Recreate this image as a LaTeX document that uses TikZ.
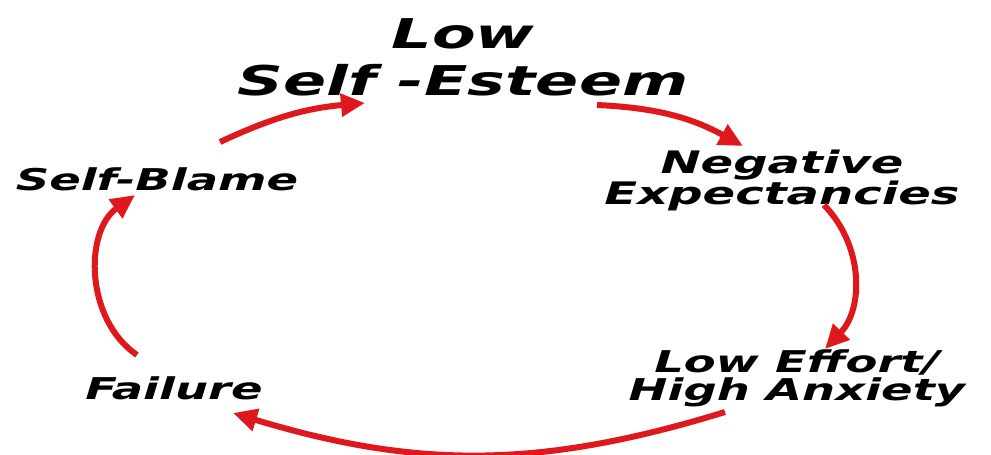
\documentclass[tikz,border=0pt]{standalone}
\usepackage{fontspec}
\setmainfont{DejaVu Sans}[FakeStretch=1.55]
\usetikzlibrary{arrows.meta}
\definecolor{cycred}{RGB}{222,24,28}

\begin{document}
\begin{tikzpicture}[x=1pt, y=-1pt,
  lbl/.style={anchor=north, inner sep=0pt, align=center,
    font=\bfseries\itshape\fontsize{30}{27}\selectfont},
  cyc/.style={cycred, line width=6pt, -{Triangle[length=24pt, width=22pt]}}]
  \useasboundingbox (0, 0) rectangle (991, 455);
  % the five stages
  \node[lbl, font=\bfseries\itshape\fontsize{41}{47}\selectfont] (lse) at (463, 18)
    {Low\\Self -Esteem};
  \node[lbl, font=\bfseries\itshape\fontsize{31}{26}\selectfont] (ne) at (782, 150)
    {Negative\\Expectancies};
  \node[lbl, font=\bfseries\itshape\fontsize{30}{28}\selectfont] (le) at (797, 350)
    {Low Effort/\\High Anxiety};
  \node[lbl] (fa) at (174, 377) {Failure};
  \node[lbl] (sb) at (157, 168) {Self-Blame};
  % the cycle
  \draw[cyc] ([shift={(63, -26)}]sb.north) to[bend left=10]
    ([shift={(-98, 85)}]lse.north);
  \draw[cyc] ([shift={(134, 87)}]lse.north) to[bend left=13]
    ([shift={(-39, -4)}]ne.north);
  \draw[cyc] ([shift={(42, 55)}]ne.north) to[bend left=44]
    ([shift={(28, -1)}]le.north);
  \draw[cyc] ([shift={(-72, 62)}]le.north) to[bend left=17]
    ([shift={(59, 36)}]fa.north);
  \draw[cyc] ([shift={(-37, -22)}]fa.north) to[bend left=55]
    ([shift={(-22, 27)}]sb.north);
\end{tikzpicture}
\end{document}
